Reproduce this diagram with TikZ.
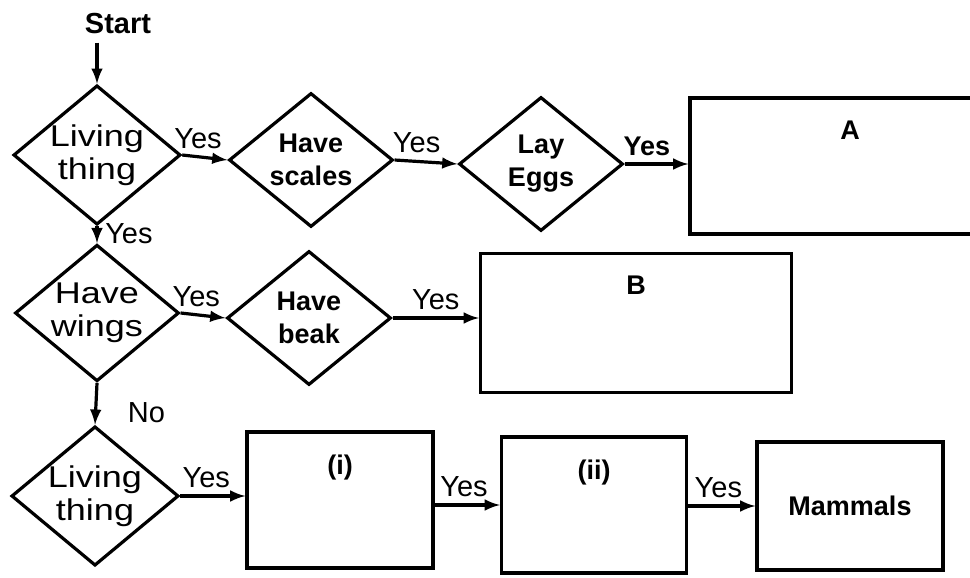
\documentclass[tikz,border=0pt]{standalone}
\usepackage{fontspec}
\setmainfont{Liberation Sans}
\newfontfamily\widesans[FakeStretch=1.2]{Liberation Sans}
\usetikzlibrary{shapes.geometric}
\begin{document}
\begin{tikzpicture}[>=latex,x=0.5pt,y=-0.5pt,line width=1.6pt,
    font=\fontsize{14.5}{16.5}\selectfont,
    boldtext/.style={font=\fontsize{13.5}{16.5}\selectfont\bfseries},
    widetext/.style={font=\fontsize{15}{16.5}\selectfont\widesans},
    decision/.style={diamond,draw,aspect=1.2,inner sep=0pt,
        minimum width=82pt,minimum height=67pt,align=center},
    answer/.style 2 args={draw,rectangle,inner sep=0pt,
        minimum width=#1,minimum height=#2},
    toptext/.style={anchor=north,yshift=-8pt,boldtext}]
    \useasboundingbox (0,0) rectangle (970,578);
    \clip (0,0) rectangle (970,578);
    % first row
    \node[font=\fontsize{14.5}{16.5}\selectfont\bfseries] (start) at (118,24) {Start};
    \node[decision,widetext] (live1) at (97,155) {Living\\thing};
    \node[decision,boldtext] (scales) at (311,160) {Have\\scales};
    \node[decision,boldtext] (eggs) at (541,164) {Lay\\Eggs};
    \node[answer={160pt}{68pt},label={[toptext]north:A}] (boxA) at (850,166) {};
    % second row
    \node[decision,widetext] (wings) at (97,313) {Have\\wings};
    \node[decision,boldtext] (beak) at (309,318) {Have\\beak};
    \node[answer={155.5pt}{69.5pt},label={[toptext]north:B}] (boxB) at (636,323) {};
    % third row
    \node[decision,widetext] (live2) at (95,496) {Living\\thing};
    \node[answer={93pt}{68pt},label={[toptext]north:(i)}] (boxi) at (340,500) {};
    \node[answer={92.5pt}{68pt},label={[toptext]north:(ii)}] (boxii) at (594,505) {};
    \node[answer={93pt}{64pt},boldtext] (mammals) at (850,506) {Mammals};
    % connectors
    \draw[->] (start.south -| live1.north) -- (live1.north);
    \draw[->] (live1.east) -- node[above,pos=0.35]{Yes} (scales.west);
    \draw[->] (scales.east) -- node[above,pos=0.35]{Yes} (eggs.west);
    \draw[->] (eggs.east) -- node[above,pos=0.35,boldtext]{Yes} (boxA.west |- eggs.east);
    \draw[->] (live1.south) -- node[right,pos=0.45]{Yes} (wings.north);
    \draw[->] (wings.east) -- node[above,pos=0.35]{Yes} (beak.west);
    \draw[->] (beak.east) -- node[above]{Yes} (boxB.west |- beak.east);
    \draw[->] (wings.south) -- node[right,xshift=12pt,pos=0.7]{No} (live2.north);
    \draw[->] (live2.east) -- node[above,pos=0.4]{Yes} (boxi.west |- live2.east);
    \draw[->] (boxi.east |- boxii.west) -- node[above,pos=0.45]{Yes} (boxii.west);
    \draw[->] (boxii.east |- mammals.west) -- node[above,pos=0.45]{Yes} (mammals.west);
\end{tikzpicture}
\end{document}
